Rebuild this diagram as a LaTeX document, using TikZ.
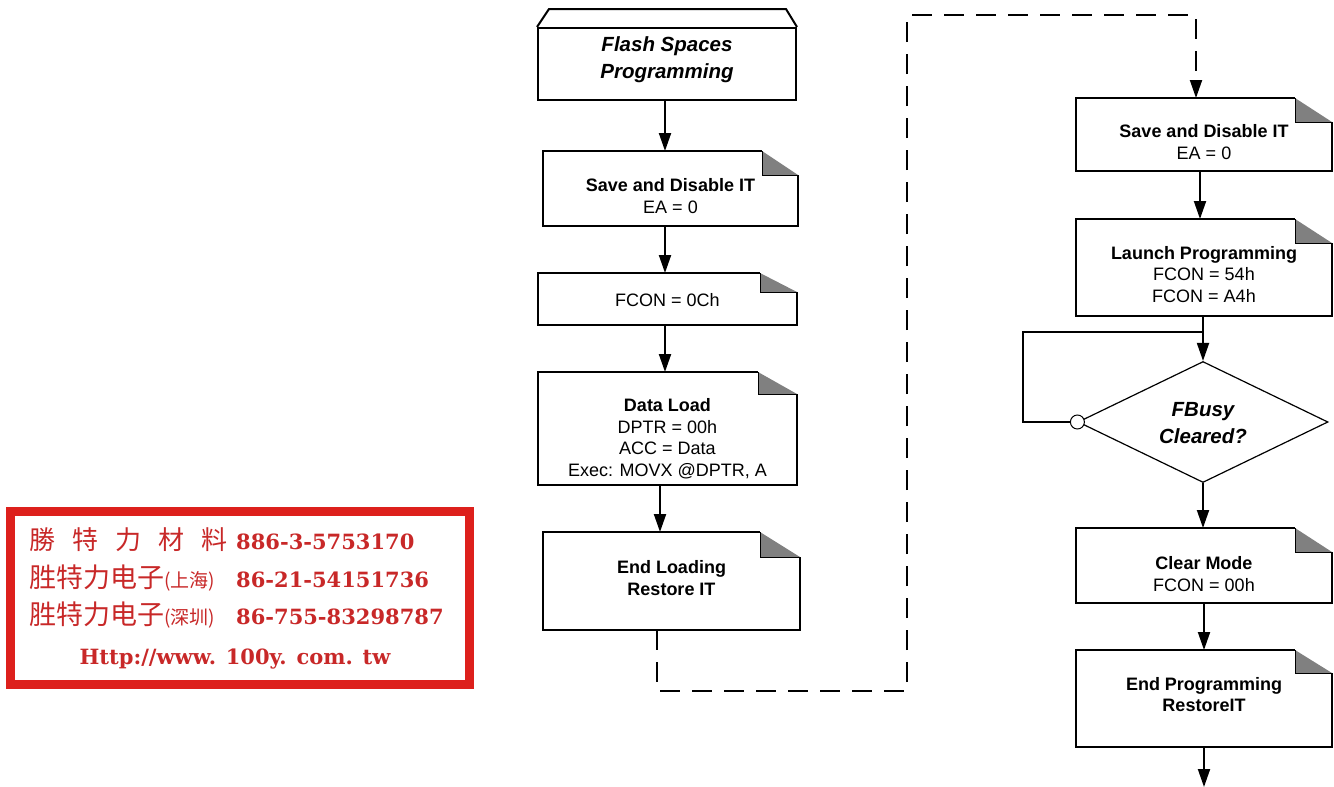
\documentclass[tikz,border=0pt]{standalone}
\usepackage{fontspec}
\setmainfont{Liberation Sans}
\newfontfamily\cjk{Noto Sans CJK TC}
\newfontfamily\stampserif{DejaVu Serif}
\usetikzlibrary{arrows.meta,shapes.geometric}
\definecolor{stampred}{RGB}{221,32,28}
\definecolor{stamptext}{RGB}{200,40,40}
\definecolor{foldgray}{RGB}{128,128,128}
\newcommand{\bodyfont}{\fontsize{18}{21.5}\selectfont}
\newcommand{\titlefont}{\fontsize{20.5}{27}\selectfont\bfseries\itshape}
% dog-ear box outline: node name, fold width, fold height
\newcommand{\dogear}[3]{%
  \fill[foldgray] ([xshift=-#2pt]#1.north east) -- ([xshift=-#2pt,yshift=-#3pt]#1.north east) -- ([yshift=-#3pt]#1.north east) -- cycle;
  \draw[foldline] ([xshift=-#2pt]#1.north east) -- ([xshift=-#2pt,yshift=-#3pt]#1.north east) -- ([yshift=-#3pt]#1.north east);
  \draw[boxline] ([xshift=-#2pt]#1.north east) -- (#1.north west) -- (#1.south west) -- (#1.south east) -- ([yshift=-#3pt]#1.north east);
}
\tikzset{
  boxline/.style={line width=2pt, line join=miter},
  foldline/.style={line width=1pt},
  nbox/.style={draw=none, inner sep=0pt, outer sep=0pt},
  txt/.style={align=center, font=\bodyfont, inner sep=0pt},
  ttl/.style={align=center, font=\titlefont, inner sep=0pt},
  tip/.tip={Triangle[length=18pt,width=12pt]},
  arr/.style={line width=2pt, -tip},
  ln/.style={line width=2pt},
  dsh/.style={line width=2pt, dash pattern=on 20pt off 12pt},
  stampcjk/.style={anchor=base west, inner sep=0pt, text=stamptext, font=\cjk},
  stampnum/.style={anchor=base west, inner sep=0pt, text=stamptext, font=\stampserif\bfseries\fontsize{21}{21}\selectfont},
}
\begin{document}
\begin{tikzpicture}[x=1pt,y=-1pt]
\useasboundingbox (0,0) rectangle (1334,787);

% ---------- stamp ----------
\fill[stampred] (6,507) rectangle (474,689);
\fill[white] (15,516) rectangle (465,680);
\node[stampcjk] (c1) at (29,549) {\fontsize{26}{26}\selectfont 勝\hspace{17pt}特\hspace{17pt}力\hspace{17pt}材\hspace{17pt}料};
\node[stampnum] (n1) at (236,549) {886-3-5753170};
\node[stampcjk] (c2) at (29,587) {\fontsize{27}{27}\selectfont 胜特力电子\fontsize{19}{19}\selectfont(上海)};
\node[stampnum] (n2) at (236,587) {86-21-54151736};
\node[stampcjk] (c3) at (29,624) {\fontsize{27}{27}\selectfont 胜特力电子\fontsize{19}{19}\selectfont(深圳)};
\node[stampnum] (n3) at (236,624) {86-755-83298787};
\node[stampnum, anchor=base] (url) at (235,664) {Http://www. 100y. com. tw};

% ---------- left column ----------
\node[draw, boxline, minimum width=258, minimum height=72, inner sep=0pt] (fsp) at (667,64) {};
\draw[boxline] (fsp.north west) -- ++(12,-18) -- ([xshift=-11pt,yshift=18pt]fsp.north east) -- (fsp.north east);
\node[ttl] (fspt) at ([yshift=4.5pt]fsp.center) {Flash Spaces\\Programming};

\node[nbox, minimum width=255, minimum height=75] (s1) at (670.5,188.5) {};
\dogear{s1}{36}{24}
\node[txt] (s1t) at ([yshift=-7.5pt]s1.center) {\textbf{Save and Disable IT}\\EA = 0};

\node[nbox, minimum width=259, minimum height=52] (f1) at (667.5,299) {};
\dogear{f1}{37}{19}
\node[txt] (f1t) at ([yshift=-1pt]f1.center) {FCON = 0Ch};

\node[nbox, minimum width=259, minimum height=113] (dl) at (667.5,428.5) {};
\dogear{dl}{39}{22}
\node[txt] (dlt) at ([yshift=-10pt]dl.center) {\textbf{Data Load}\\DPTR = 00h\\ACC = Data\\Exec: MOVX @DPTR, A};

\node[nbox, minimum width=257, minimum height=98] (el) at (671.5,581) {};
\dogear{el}{40}{25}
\node[txt] (elt) at ([yshift=3pt]el.center) {\textbf{End Loading}\\\textbf{Restore IT}};

% ---------- right column ----------
\node[nbox, minimum width=256, minimum height=73] (s2) at (1204,134.5) {};
\dogear{s2}{37}{24}
\node[txt] (s2t) at ([yshift=-7.5pt]s2.center) {\textbf{Save and Disable IT}\\EA = 0};

\node[nbox, minimum width=256, minimum height=97] (lp) at (1204,267.5) {};
\dogear{lp}{37}{24}
\node[txt] (lpt) at ([yshift=-7pt]lp.center) {\textbf{Launch Programming}\\FCON = 54h\\FCON = A4h};

\node[diamond, draw, line width=1.2pt, minimum width=250, minimum height=121, inner sep=0pt] (dia) at (1203,422) {};
\node[ttl] (diat) at ([yshift=-1pt]dia.center) {FBusy\\Cleared?};
\node[circle, draw, fill=white, line width=1pt, minimum size=14, inner sep=0pt] (cir) at (dia.west) {};

\node[nbox, minimum width=256, minimum height=75] (cm) at (1204,565.5) {};
\dogear{cm}{37}{24}
\node[txt] (cmt) at ([yshift=-8.5pt]cm.center) {\textbf{Clear Mode}\\FCON = 00h};

\node[nbox, minimum width=256, minimum height=97] (ep) at (1204,698.5) {};
\dogear{ep}{37}{23}
\node[txt] (ept) at ([yshift=4pt]ep.center) {\textbf{End Programming}\\\textbf{RestoreIT}};

% ---------- connectors ----------
\draw[arr] ([xshift=-2pt]fsp.south) -- ([xshift=-2pt]fsp.south |- s1.north);
\draw[arr] ([xshift=-2.5pt]f1.north |- s1.south) -- ([xshift=-2.5pt]f1.north);
\draw[arr] ([xshift=-2.5pt]f1.south) -- ([xshift=-2.5pt]f1.south |- dl.north);
\draw[arr] ([xshift=-7.5pt]dl.south) -- ([xshift=-7.5pt]dl.south |- el.north);

\coordinate (dc1) at (907,691);
\coordinate (dc2) at (907,15);
\draw[dsh, -tip] ([xshift=-14.5pt]el.south) |- (dc1) -- (dc2) -| ([xshift=-8pt]s2.north);

\draw[arr] ([xshift=-4pt]s2.south) -- ([xshift=-4pt]lp.north);
\draw[arr] (dia.north |- lp.south) -- (dia.north);
\coordinate (j) at ([yshift=-16pt]dia.north |- lp.south);
\coordinate (lc) at (1023,332);
\draw[ln] (cir.west) -| (lc) -- (j);
\draw[arr] (dia.south) -- (dia.south |- cm.north);
\draw[arr] (cm.south) -- (ep.north);
\coordinate (out) at (1204,787);
\draw[arr] (ep.south) -- (out);
\end{tikzpicture}
\end{document}
